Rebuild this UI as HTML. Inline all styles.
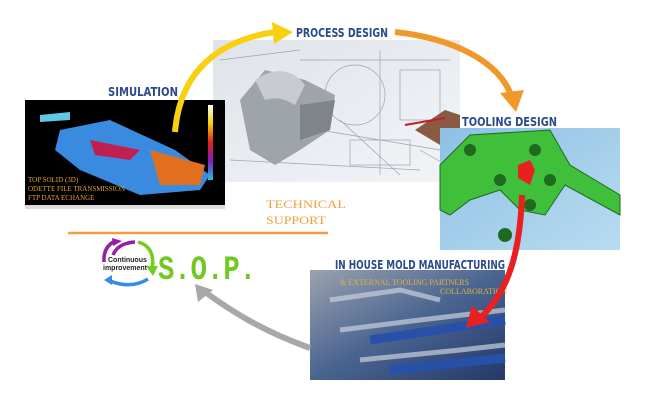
<!DOCTYPE html>
<html><head><style>
html,body{margin:0;padding:0;background:#fff;}
svg{display:block}
</style></head><body>
<svg width="652" height="403" viewBox="0 0 652 403" xmlns="http://www.w3.org/2000/svg" font-family="Liberation Sans, sans-serif">
<defs>
<linearGradient id="paper" x1="0" y1="0" x2="1" y2="1"><stop offset="0" stop-color="#dfe4ea"/><stop offset="1" stop-color="#f2f4f7"/></linearGradient>
<linearGradient id="mold" x1="0" y1="0" x2="1" y2="1"><stop offset="0" stop-color="#9aa2ae"/><stop offset="0.5" stop-color="#4a6490"/><stop offset="1" stop-color="#24386a"/></linearGradient>
<linearGradient id="tool" x1="0" y1="0" x2="1" y2="1"><stop offset="0" stop-color="#8ec0e4"/><stop offset="1" stop-color="#b8dcf0"/></linearGradient>
<linearGradient id="scale" x1="0" y1="0" x2="0" y2="1"><stop offset="0" stop-color="#fff"/><stop offset="0.25" stop-color="#f0d000"/><stop offset="0.5" stop-color="#e02020"/><stop offset="0.75" stop-color="#8020c0"/><stop offset="1" stop-color="#20c0e0"/></linearGradient>
</defs>
<!-- process design image -->
<rect x="213" y="40" width="247" height="142" fill="url(#paper)"/>
<g stroke="#9aa4b4" stroke-width="0.7" fill="none">
<circle cx="355" cy="95" r="30"/><line x1="300" y1="60" x2="450" y2="60"/><line x1="320" y1="130" x2="440" y2="150"/><line x1="230" y1="160" x2="420" y2="170"/><line x1="380" y1="50" x2="380" y2="175"/><rect x="400" y="70" width="40" height="50"/>
<line x1="340" y1="120" x2="400" y2="175"/><line x1="220" y1="60" x2="300" y2="50"/><rect x="350" y="140" width="60" height="25"/><line x1="420" y1="150" x2="455" y2="170"/>
</g>
<path d="M240 100 L265 70 L305 80 L335 95 L330 130 L300 150 L275 165 L250 150 Z" fill="#9ea4aa"/>
<path d="M255 80 Q285 60 305 85 L295 105 Q280 95 265 100 Z" fill="#c8ccd0"/>
<path d="M300 105 L335 100 L330 130 L300 140 Z" fill="#7e848a"/>
<path d="M415 130 L445 110 L460 115 L460 140 L440 145 Z" fill="#8a5a44"/>
<line x1="405" y1="125" x2="445" y2="118" stroke="#c02020" stroke-width="2"/>
<!-- simulation image -->
<rect x="25" y="100" width="200" height="105" fill="#000"/>
<rect x="25" y="205" width="200" height="4" fill="#ddd"/>
<path d="M60 130 L110 120 L175 150 L210 175 L200 190 L140 195 L80 170 L55 150 Z" fill="#3a8ae0"/>
<path d="M150 150 L205 165 L200 185 L160 185 Z" fill="#e07020"/>
<path d="M90 140 L140 150 L130 160 L95 155 Z" fill="#c02050"/>
<path d="M40 115 L70 112 L70 120 L40 122 Z" fill="#60c8e0"/>
<rect x="208" y="105" width="5" height="75" fill="url(#scale)"/>
<g font-family="Liberation Serif, serif" font-size="7" fill="#e8a030">
<text x="28" y="182">TOP SOLID (3D)</text><text x="28" y="191">ODETTE FILE TRANSMISSION</text><text x="28" y="200">FTP DATA ECHANGE</text>
</g>
<!-- tooling image -->
<rect x="440" y="128" width="180" height="122" fill="url(#tool)"/>
<path d="M440 165 L470 135 L550 130 L570 165 L620 195 L620 215 L565 185 L545 215 L520 210 L500 190 L470 200 L450 215 L440 210 Z" fill="#3fbf3a" stroke="#1f6a1f" stroke-width="1"/>
<g fill="#1f6a1f"><circle cx="470" cy="150" r="6"/><circle cx="535" cy="150" r="6"/><circle cx="500" cy="180" r="6"/><circle cx="550" cy="180" r="6"/><circle cx="530" cy="205" r="6"/><circle cx="505" cy="235" r="7"/></g>
<path d="M518 165 L530 160 L535 170 L530 185 L518 178 Z" fill="#e82020"/>
<!-- mold image -->
<rect x="310" y="270" width="195" height="110" fill="url(#mold)"/>
<g stroke="#c8d0dc" stroke-width="5" fill="none" opacity="0.7">
<path d="M330 300 L400 290 L440 300"/><path d="M340 330 L420 320 L505 310"/><path d="M360 360 L460 350 L505 345"/>
</g>
<g stroke="#2850a8" stroke-width="9" fill="none"><path d="M370 340 L505 320"/><path d="M390 370 L505 358"/></g>
<text x="340" y="285" font-family="Liberation Serif, serif" font-size="8" fill="#e0b040">&amp; EXTERNAL TOOLING PARTNERS</text>
<text x="440" y="294" font-family="Liberation Serif, serif" font-size="8" fill="#e0b040">COLLABORATION</text>
<!-- labels -->
<g font-family="DejaVu Sans Condensed, DejaVu Sans, sans-serif" font-weight="bold" fill="#2a4a8c" font-size="12">
<text x="108" y="96" textLength="70" lengthAdjust="spacingAndGlyphs">SIMULATION</text>
<text x="296" y="37" textLength="92" lengthAdjust="spacingAndGlyphs">PROCESS DESIGN</text>
<text x="462" y="126" textLength="95" lengthAdjust="spacingAndGlyphs">TOOLING DESIGN</text>
<text x="335" y="269" textLength="170" lengthAdjust="spacingAndGlyphs">IN HOUSE MOLD MANUFACTURING</text>
</g>
<!-- technical support -->
<g font-family="Liberation Serif, serif" font-size="12" fill="#f0a040">
<text x="266" y="208" textLength="80" lengthAdjust="spacingAndGlyphs">TECHNICAL</text>
<text x="266" y="224" textLength="60" lengthAdjust="spacingAndGlyphs">SUPPORT</text>
</g>
<line x1="68" y1="233" x2="328" y2="233" stroke="#f0a040" stroke-width="2.5"/>
<!-- arrows -->
<path d="M175 132 C180 70 220 40 275 32" stroke="#f8d010" stroke-width="6" fill="none"/>
<path d="M272 22 L293 32 L274 44 Z" fill="#f8d010"/>
<path d="M395 32 C450 38 500 60 512 98" stroke="#f0982a" stroke-width="6" fill="none"/>
<path d="M500 93 L516 112 L524 90 Z" fill="#f0982a"/>
<path d="M522 195 C520 250 510 290 480 318" stroke="#e82020" stroke-width="6" fill="none"/>
<path d="M472 306 L466 328 L490 322 Z" fill="#e82020"/>
<path d="M310 348 C260 330 230 310 205 292" stroke="#a8a8a8" stroke-width="6" fill="none"/>
<path d="M195 284 L198 302 L213 290 Z" fill="#a8a8a8"/>
<!-- SOP -->
<path d="M113 255 Q118 243 135 242" stroke="#9a1aa8" stroke-width="3.5" fill="none"/>
<path d="M104 262 Q103 247 115 241" stroke="#9a1aa8" stroke-width="3.5" fill="none"/>
<path d="M112 238 L122 241 L113 246 Z" fill="#9a1aa8"/>
<path d="M138 242 Q156 247 152 270" stroke="#72cc20" stroke-width="3.5" fill="none"/>
<path d="M146 266 L153 276 L158 266 Z" fill="#72cc20"/>
<path d="M148 279 Q130 290 108 280" stroke="#3a8ae8" stroke-width="3.5" fill="none"/>
<path d="M112 275 L104 280 L112 285 Z" fill="#3a8ae8"/>
<text x="108" y="262" font-size="7" font-weight="bold" fill="#222">Continuous</text>
<text x="103" y="270" font-size="7" font-weight="bold" fill="#222">improvement</text>
<text x="158" y="279" font-family="Liberation Mono, monospace" font-weight="bold" font-size="34" fill="#72c820" textLength="98" lengthAdjust="spacingAndGlyphs">S.O.P.</text>
</svg>
</body></html>
